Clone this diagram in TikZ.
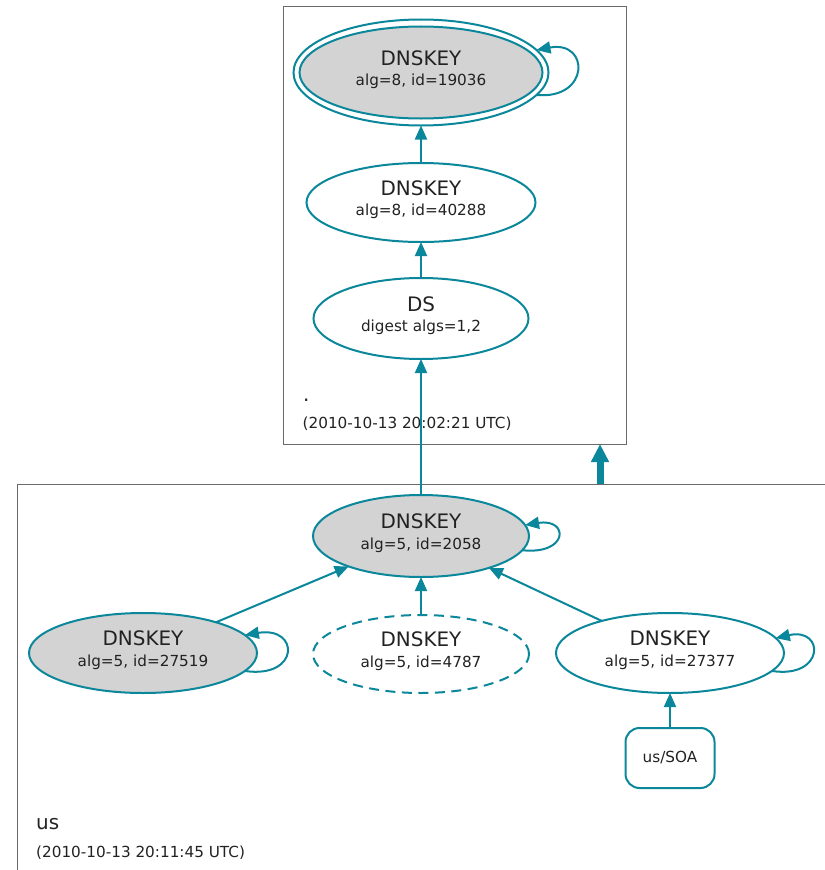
\documentclass[tikz,border=0pt]{standalone}
\usepackage{fontspec}
\setmainfont{DejaVu Sans}
\usetikzlibrary{shapes.geometric,arrows.meta,calc}

\definecolor{secure}{HTML}{0A879A}
\definecolor{keyfill}{HTML}{D3D3D3}
\definecolor{zoneline}{HTML}{6A6A6A}
\definecolor{labeltext}{HTML}{222222}

\newcommand\ttlfont{\fontsize{20}{24}\selectfont}
\newcommand\subfont{\fontsize{15.3}{18}\selectfont}

\begin{document}
\begin{tikzpicture}[x=1bp,y=-1bp,
  keynode/.style={ellipse, draw=secure, line width=2bp, inner sep=0pt, outer sep=0pt},
  keysize/.style 2 args={minimum width=#1bp, minimum height=#2bp},
  signed/.style={fill=keyfill},
  revoked/.style={dash pattern=on 10bp off 6.5bp},
  ttl/.style={anchor=base, inner sep=0pt, font=\ttlfont, text=labeltext},
  sub/.style={anchor=base, inner sep=0pt, font=\subfont, text=labeltext},
  link/.style={draw=secure, line width=2bp, -{Triangle[length=14bp,width=12bp]}},
  zonebox/.style={draw=zoneline, line width=1bp, inner sep=0pt, outer sep=0pt, anchor=north west},
  rrset/.style={draw=secure, line width=2bp, rounded corners=14bp, inner sep=0pt, outer sep=0pt,
    minimum width=89bp, minimum height=60bp, font=\subfont, text=labeltext},
  zonelabel/.style={anchor=base west, inner sep=0pt, text=labeltext}
]
\useasboundingbox (0,0) rectangle (825,870);
\clip (0,0) rectangle (825,870);

% zone frames
\node[zonebox, minimum width=343bp, minimum height=438bp] (rootzone) at (283,6) {};
\node[zonebox, minimum width=830bp, minimum height=420bp] (uszone) at (17,484) {};

% zone names and timestamps
\node[zonelabel, font=\ttlfont] (rootname) at (303,401) {.};
\node[zonelabel, font=\subfont] (roottime) at (302.5,428) {(2010-10-13 20:02:21 UTC)};
\node[zonelabel, font=\ttlfont] (usname) at (36,829.5) {us};
\node[zonelabel, font=\subfont] (ustime) at (36,857) {(2010-10-13 20:11:45 UTC)};

% root zone keys
\node[keynode, keysize={255}{106}] (k19036) at (421,72.5) {};
\node[keynode, signed, keysize={243}{92}] (k19036in) at (421,72.5) {};
\node[keynode, keysize={229}{79}] (k40288) at (421,202.5) {};
\node[keynode, keysize={215}{81}] (ds) at (421,318.5) {};

% us zone keys
\node[keynode, signed, keysize={216}{82}] (k2058) at (421,536) {};
\node[keynode, signed, keysize={228}{80}] (k27519) at (143,653) {};
\node[keynode, revoked, keysize={216}{78}] (k4787) at (421,654) {};
\node[keynode, keysize={228}{80}] (k27377) at (670,653) {};
\node[rrset] (soa) at (670,758) {us/SOA};

% key labels
\foreach \k/\t/\s in {k19036/DNSKEY/{alg=8, id=19036},
                      k40288/DNSKEY/{alg=8, id=40288},
                      ds/DS/{digest algs=1,2},
                      k2058/DNSKEY/{alg=5, id=2058},
                      k27519/DNSKEY/{alg=5, id=27519},
                      k4787/DNSKEY/{alg=5, id=4787},
                      k27377/DNSKEY/{alg=5, id=27377}}{
  \node[ttl] (\k-title) at ($(\k.center)+(0,-7.3)$) {\t};
  \node[sub] (\k-detail) at ($(\k.center)+(0,13.3)$) {\s};
}

% delegation between the zones
\coordinate (delegx) at (600,0);
\draw[secure, line width=7bp, -{Triangle[length=18bp,width=17bp]}]
  (uszone.north -| delegx) -- (rootzone.south -| delegx);

% authentication chain
\draw[link] (k40288) -- (k19036);
\draw[link] (ds) -- (k40288);
\draw[link] (k2058) -- (ds);
\draw[link] (k27519) -- (k2058);
\draw[link] (k4787) -- (k2058);
\draw[link] (k27377) -- (k2058);
\draw[link] (soa) -- (k27377);

% self-signatures
\draw[link] (k19036.-11) .. controls (590,100) and (590,40) .. (k19036.11);
\draw[link] (k2058.-8) .. controls (569,555) and (569,518) .. (k2058.6);
\draw[link] (k27519.-10) .. controls (300,679) and (300,626) .. (k27519.10);
\draw[link] (k27377.-10) .. controls (825,679) and (825,627) .. (k27377.8);
\end{tikzpicture}
\end{document}
